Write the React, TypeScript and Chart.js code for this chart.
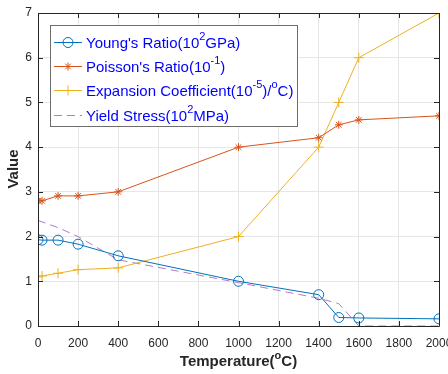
import React, { useEffect, useRef } from "react";
import { Chart, registerables } from "chart.js";
Chart.register(...registerables);

const temps = [0, 20, 100, 200, 400, 1000, 1400, 1500, 1600, 2000];
const youngs = [1.93, 1.92, 1.92, 1.83, 1.57, 1.0, 0.7, 0.19, 0.18, 0.16];
const poisson = [2.8, 2.8, 2.91, 2.91, 3.0, 4.0, 4.21, 4.5, 4.61, 4.7];
const expansion = [1.1, 1.12, 1.18, 1.26, 1.3, 2.0, 4.0, 5.0, 6.0, 7.0];
const yieldStress = [2.36, 2.33, 2.2, 2.0, 1.48, 0.97, 0.62, 0.5, 0.0, 0.0];

const seriesNames = ["Young's Ratio", "Poisson's Ratio", "Expansion Coefficient", "Yield Stress"];
type Seg = { t: string; sup?: boolean };
const legendTexts: Seg[][] = [
  [{ t: "Young's Ratio(10" }, { t: "2", sup: true }, { t: "GPa)" }],
  [{ t: "Poisson's Ratio(10" }, { t: "-1", sup: true }, { t: ")" }],
  [{ t: "Expansion Coefficient(10" }, { t: "-5", sup: true }, { t: ")/" }, { t: "o", sup: true }, { t: "C)" }],
  [{ t: "Yield Stress(10" }, { t: "2", sup: true }, { t: "MPa)" }],
];
const xTitle: Seg[] = [{ t: "Temperature(" }, { t: "o", sup: true }, { t: "C)" }];
const yTitle = "Value";

const colors = ["#0072BD", "#D95319", "#EDB120", "#B07CC6"];
const markers = ["circle", "star", "cross", "none"];
const FONT = "'Liberation Sans', Arial, sans-serif";

function pts(ys: number[]) {
  return temps.map((x, i) => ({ x, y: ys[i] }));
}

function drawSegs(ctx: CanvasRenderingContext2D, segs: Seg[], x: number, y: number, size: number, bold: boolean, measureOnly = false) {
  let cx = x;
  for (const s of segs) {
    const sz = s.sup ? Math.round(size * 0.7) : size;
    ctx.font = `${bold ? "bold " : ""}${sz}px ${FONT}`;
    const w = ctx.measureText(s.t).width;
    if (!measureOnly) ctx.fillText(s.t, cx, s.sup ? y - size * 0.42 : y);
    cx += w;
  }
  return cx - x;
}

function drawMarker(ctx: CanvasRenderingContext2D, kind: string, x: number, y: number, color: string) {
  ctx.strokeStyle = color;
  ctx.lineWidth = 1;
  ctx.beginPath();
  if (kind === "circle") {
    ctx.arc(x, y, 5, 0, Math.PI * 2);
  } else if (kind === "cross") {
    ctx.moveTo(x - 5, y); ctx.lineTo(x + 5, y);
    ctx.moveTo(x, y - 5); ctx.lineTo(x, y + 5);
  } else if (kind === "star") {
    const r = 4;
    for (let k = 0; k < 4; k++) {
      const ang = (k * Math.PI) / 4;
      ctx.moveTo(x - r * Math.cos(ang), y - r * Math.sin(ang));
      ctx.lineTo(x + r * Math.cos(ang), y + r * Math.sin(ang));
    }
  }
  ctx.stroke();
}

const framePlugin = {
  id: "frame",
  afterDatasetsDraw(chart: any) {
    const { ctx, chartArea: a, scales } = chart;
    ctx.save();
    ctx.strokeStyle = "#262626";
    ctx.lineWidth = 1;
    ctx.beginPath();
    ctx.rect(Math.round(a.left) + 0.5, Math.round(a.top) + 0.5, Math.round(a.right - a.left), Math.round(a.bottom - a.top));
    ctx.stroke();
    const tl = 5;
    ctx.beginPath();
    for (const t of scales.x.ticks) {
      const px = Math.round(scales.x.getPixelForValue(t.value)) + 0.5;
      ctx.moveTo(px, a.bottom); ctx.lineTo(px, a.bottom - tl);
      ctx.moveTo(px, a.top); ctx.lineTo(px, a.top + tl);
    }
    for (const t of scales.y.ticks) {
      const py = Math.round(scales.y.getPixelForValue(t.value)) + 0.5;
      ctx.moveTo(a.left, py); ctx.lineTo(a.left + tl, py);
      ctx.moveTo(a.right, py); ctx.lineTo(a.right - tl, py);
    }
    ctx.stroke();

    // axis titles
    ctx.fillStyle = "#262626";
    ctx.textBaseline = "middle";
    const w = drawSegs(ctx, xTitle, 0, 0, 15, true, true);
    drawSegs(ctx, xTitle, (a.left + a.right) / 2 - w / 2, 362, 15, true);
    ctx.save();
    ctx.translate(14, 169);
    ctx.rotate(-Math.PI / 2);
    ctx.font = `bold 15px ${FONT}`;
    ctx.textAlign = "center";
    ctx.fillText(yTitle, 0, 0);
    ctx.restore();

    // legend
    const lx = 50, ly = 25, lw = 247, lh = 101;
    ctx.fillStyle = "#ffffff";
    ctx.fillRect(lx, ly, lw, lh);
    ctx.strokeStyle = "#6e6e6e";
    ctx.strokeRect(lx + 0.5, ly + 0.5, lw, lh);
    const rows = [42.5, 66.5, 90.5, 115.5];
    chart.data.datasets.forEach((ds: any, i: number) => {
      const y = rows[i];
      ctx.strokeStyle = ds.borderColor;
      ctx.lineWidth = 1;
      ctx.setLineDash(ds.borderDash || []);
      ctx.beginPath();
      ctx.moveTo(54, y); ctx.lineTo(82, y);
      ctx.stroke();
      ctx.setLineDash([]);
      drawMarker(ctx, markers[i], 68, y, ds.borderColor);
      ctx.fillStyle = "#0000FF";
      ctx.textBaseline = "middle";
      drawSegs(ctx, legendTexts[i], 86, y + 1, 15, false);
    });
    ctx.restore();
  },
};

export default function App() {
  const ref = useRef<HTMLCanvasElement>(null);
  useEffect(() => {
    document.body.style.margin = "0";
    const common = { borderWidth: 1, showLine: true, fill: false, tension: 0 };
    const chart = new Chart(ref.current!, {
      type: "scatter",
      data: {
        datasets: [
          { ...common, label: seriesNames[0], data: pts(youngs), borderColor: colors[0], pointStyle: "circle", pointRadius: 5, pointBorderColor: colors[0], pointBackgroundColor: "rgba(0,0,0,0)", pointBorderWidth: 1 },
          { ...common, label: seriesNames[1], data: pts(poisson), borderColor: colors[1], pointStyle: "star", pointRadius: 4, pointBorderColor: colors[1], pointBackgroundColor: colors[1], pointBorderWidth: 1 },
          { ...common, label: seriesNames[2], data: pts(expansion), borderColor: colors[2], pointStyle: "cross", pointRadius: 5, pointBorderColor: colors[2], pointBorderWidth: 1 },
          { ...common, label: seriesNames[3], data: pts(yieldStress), borderColor: colors[3], borderDash: [8, 5], pointRadius: 0 },
        ],
      } as any,
      options: {
        animation: false,
        responsive: false,
        layout: { padding: { left: 0, top: 13, right: 9, bottom: 0 } },
        plugins: { legend: { display: false }, tooltip: { enabled: false } },
        scales: {
          x: {
            type: "linear", min: 0, max: 2000,
            ticks: { stepSize: 200, color: "#262626", font: { family: FONT, size: 12 }, padding: 10, maxRotation: 0, autoSkip: false, callback: (v: any) => String(v) },
            grid: { color: "#e6e6e6", drawTicks: false },
            border: { display: false },
            afterFit: (s: any) => { s.height = 48; s.paddingLeft = 0; s.paddingRight = 0; },
          } as any,
          y: {
            type: "linear", min: 0, max: 7,
            ticks: { stepSize: 1, color: "#262626", font: { family: FONT, size: 12 }, padding: 6, callback: (v: any) => String(v) },
            grid: { color: "#e6e6e6", drawTicks: false },
            border: { display: false },
            afterFit: (s: any) => { s.width = 38; s.paddingTop = 0; s.paddingBottom = 0; },
          } as any,
        },
      },
      plugins: [framePlugin],
    });
    return () => chart.destroy();
  }, []);
  return (
    <div style={{ position: "absolute", left: 0, top: 0, width: 448, height: 374 }}>
      <canvas ref={ref} width={448} height={374} />
    </div>
  );
}
